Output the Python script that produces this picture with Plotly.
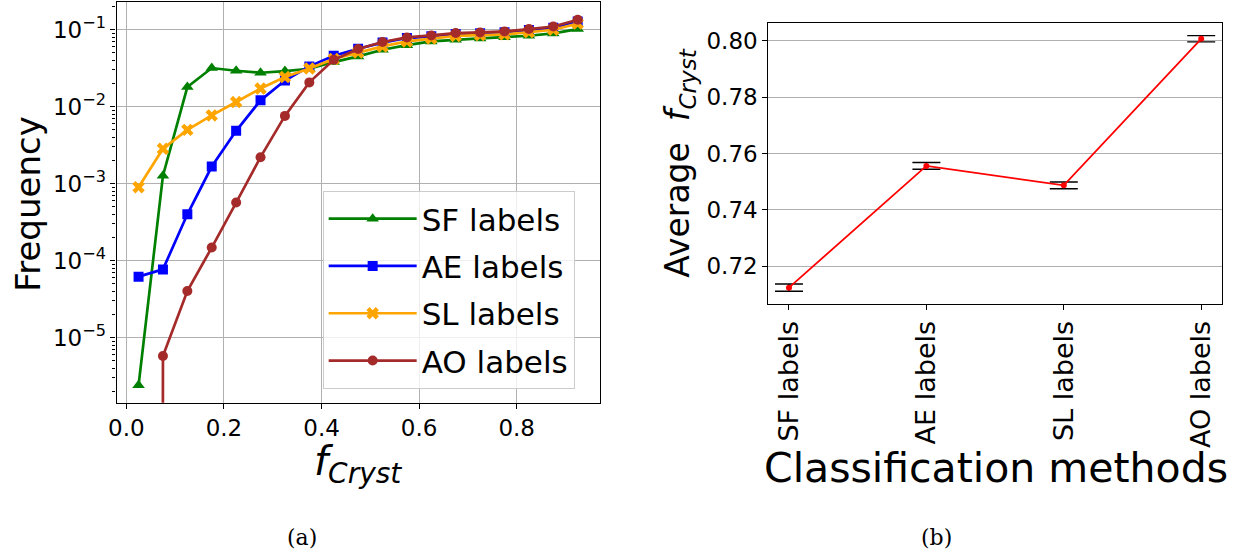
import plotly.graph_objects as go

# ---------------- data ----------------
f_cryst = [0.025, 0.075, 0.125, 0.175, 0.225, 0.275, 0.325, 0.375, 0.425, 0.475,
           0.525, 0.575, 0.625, 0.675, 0.725, 0.775, 0.825, 0.875, 0.925]

sf_freq = [2.4e-6, 1.27e-3, 0.0180, 0.0318, 0.0293, 0.0276, 0.0290, 0.0311, 0.038, 0.045,
           0.055, 0.063, 0.0705, 0.0741, 0.077, 0.080, 0.0835, 0.0895, 0.102]
ae_freq = [6.2e-5, 7.7e-5, 4.0e-4, 1.67e-3, 4.86e-3, 0.0121, 0.0219, 0.0334, 0.0459, 0.0566,
           0.068, 0.078, 0.082, 0.088, 0.090, 0.093, 0.099, 0.106, 0.128]
sl_freq = [9.0e-4, 2.84e-3, 5.0e-3, 7.7e-3, 0.0115, 0.0172, 0.0243, 0.0314, 0.0416, 0.0507,
           0.0607, 0.0705, 0.077, 0.083, 0.085, 0.087, 0.093, 0.100, 0.120]
ao_freq = [0.0, 5.77e-6, 4.04e-5, 1.48e-4, 5.69e-4, 2.21e-3, 7.6e-3, 0.0207, 0.0407, 0.0561,
           0.0692, 0.0794, 0.0843, 0.0905, 0.0922, 0.0951, 0.102, 0.110, 0.135]

methods = ["SF labels", "AE labels", "SL labels", "AO labels"]
avg_fcryst = [0.7124, 0.7556, 0.7487, 0.8007]
avg_err = [0.0013, 0.0012, 0.0012, 0.0011]

x_tick_vals = [0.0, 0.2, 0.4, 0.6, 0.8]
x_tick_text = ["0.0", "0.2", "0.4", "0.6", "0.8"]
y_tick_vals = [1e-5, 1e-4, 1e-3, 1e-2, 1e-1]
y_tick_text = ["10<sup>\u22125</sup>", "10<sup>\u22124</sup>", "10<sup>\u22123</sup>",
               "10<sup>\u22122</sup>", "10<sup>\u22121</sup>"]
y2_tick_vals = [0.72, 0.74, 0.76, 0.78, 0.80]
y2_tick_text = ["0.72", "0.74", "0.76", "0.78", "0.80"]

# ---------------- layout helpers ----------------
W, H = 1240, 552
FONT = "DejaVu Sans"


def fx(p):
    return p / W


def fy(p):
    return 1 - p / H


fig = go.Figure()

series = [
    ("SF labels", sf_freq, "#008000", "triangle-up", 11),
    ("AE labels", ae_freq, "#0000ff", "square", 10),
    ("SL labels", sl_freq, "#ffa500", "x", 11),
    ("AO labels", ao_freq, "#a52a2a", "circle", 10),
]
for name, vals, color, sym, size in series:
    # log axis: non-positive values are clipped to a tiny value (like matplotlib)
    yplot = [v if v > 0 else 1e-300 for v in vals]
    fig.add_trace(go.Scatter(
        x=f_cryst, y=yplot, mode="lines+markers", name=name, legendgroup=name,
        line=dict(color=color, width=2.7),
        marker=dict(symbol=sym, size=size, color=color, line=dict(width=0)),
        xaxis="x", yaxis="y",
    ))

fig.add_trace(go.Scatter(
    x=methods, y=avg_fcryst, mode="lines+markers", showlegend=False,
    line=dict(color="red", width=1.8),
    marker=dict(color="red", size=6),
    error_y=dict(type="data", array=avg_err, visible=True, color="black",
                 thickness=1.4, width=14),
    xaxis="x2", yaxis="y2",
))

minor_vals = [m * 10 ** e for e in range(-6, 0) for m in range(2, 10)]

axis_common = dict(showline=True, mirror=True, linecolor="black", linewidth=1.2,
                   ticks="outside", ticklen=5, tickwidth=1.1, tickcolor="black",
                   zeroline=False, tickfont=dict(family=FONT, size=23, color="black"))


def label(text, x, y, size, angle=0, family=FONT):
    return dict(text=text, x=fx(x), y=fy(y), xref="paper", yref="paper",
                xanchor="center", yanchor="middle", textangle=angle,
                showarrow=False, font=dict(family=family, size=size, color="black"))


fig.update_layout(
    width=W, height=H,
    margin=dict(l=0, r=0, t=0, b=0),
    paper_bgcolor="white", plot_bgcolor="white",
    font=dict(family=FONT, color="black"),
    xaxis=dict(domain=[fx(109.3), fx(595.5)], anchor="y", range=[-0.02, 0.97],
               tickmode="array", tickvals=x_tick_vals, ticktext=x_tick_text,
               showgrid=True, gridcolor="#b0b0b0", gridwidth=1, **axis_common),
    yaxis=dict(domain=[fy(402.7), fy(1.7)], anchor="x", type="log",
               range=[-5.845, -0.636],
               tickmode="array", tickvals=y_tick_vals, ticktext=y_tick_text,
               showgrid=True, gridcolor="#b0b0b0", gridwidth=1,
               minor=dict(tickmode="array", tickvals=minor_vals, ticks="outside",
                          ticklen=3, tickcolor="black", tickwidth=0.8, showgrid=False),
               **axis_common),
    xaxis2=dict(domain=[fx(765.3), fx(1221.7)], anchor="y2", type="category",
                range=[-0.15, 3.15], tickangle=-90, showgrid=False,
                **{**axis_common, "tickfont": dict(family=FONT, size=27, color="black")}),
    yaxis2=dict(domain=[fy(304), fy(22.7)], anchor="x2", range=[0.7066, 0.8064],
                tickmode="array", tickvals=y2_tick_vals, ticktext=y2_tick_text,
                showgrid=True, gridcolor="#b0b0b0", gridwidth=1, **axis_common),
    legend=dict(x=fx(316.7), y=fy(191), xanchor="left", yanchor="top",
                bgcolor="rgba(255,255,255,0.8)", bordercolor="#cccccc", borderwidth=1,
                font=dict(family=FONT, size=31, color="black"), tracegroupgap=4,
                itemwidth=88),
    annotations=[
        label("Frequency", 20, 204, 34, angle=-90),
        label("<i>f</i><sub><i>Cryst</i></sub>", 352, 464, 40),
        label("Average  <i>f</i><sub><i>Cryst</i></sub>", 675, 163, 33, angle=-90),
        label("Classification methods", 994, 468, 41),
        label("(a)", 296, 537, 22, family="DejaVu Serif"),
        label("(b)", 935, 537, 22, family="DejaVu Serif"),
    ],
)

fig.write_html("out.html")
